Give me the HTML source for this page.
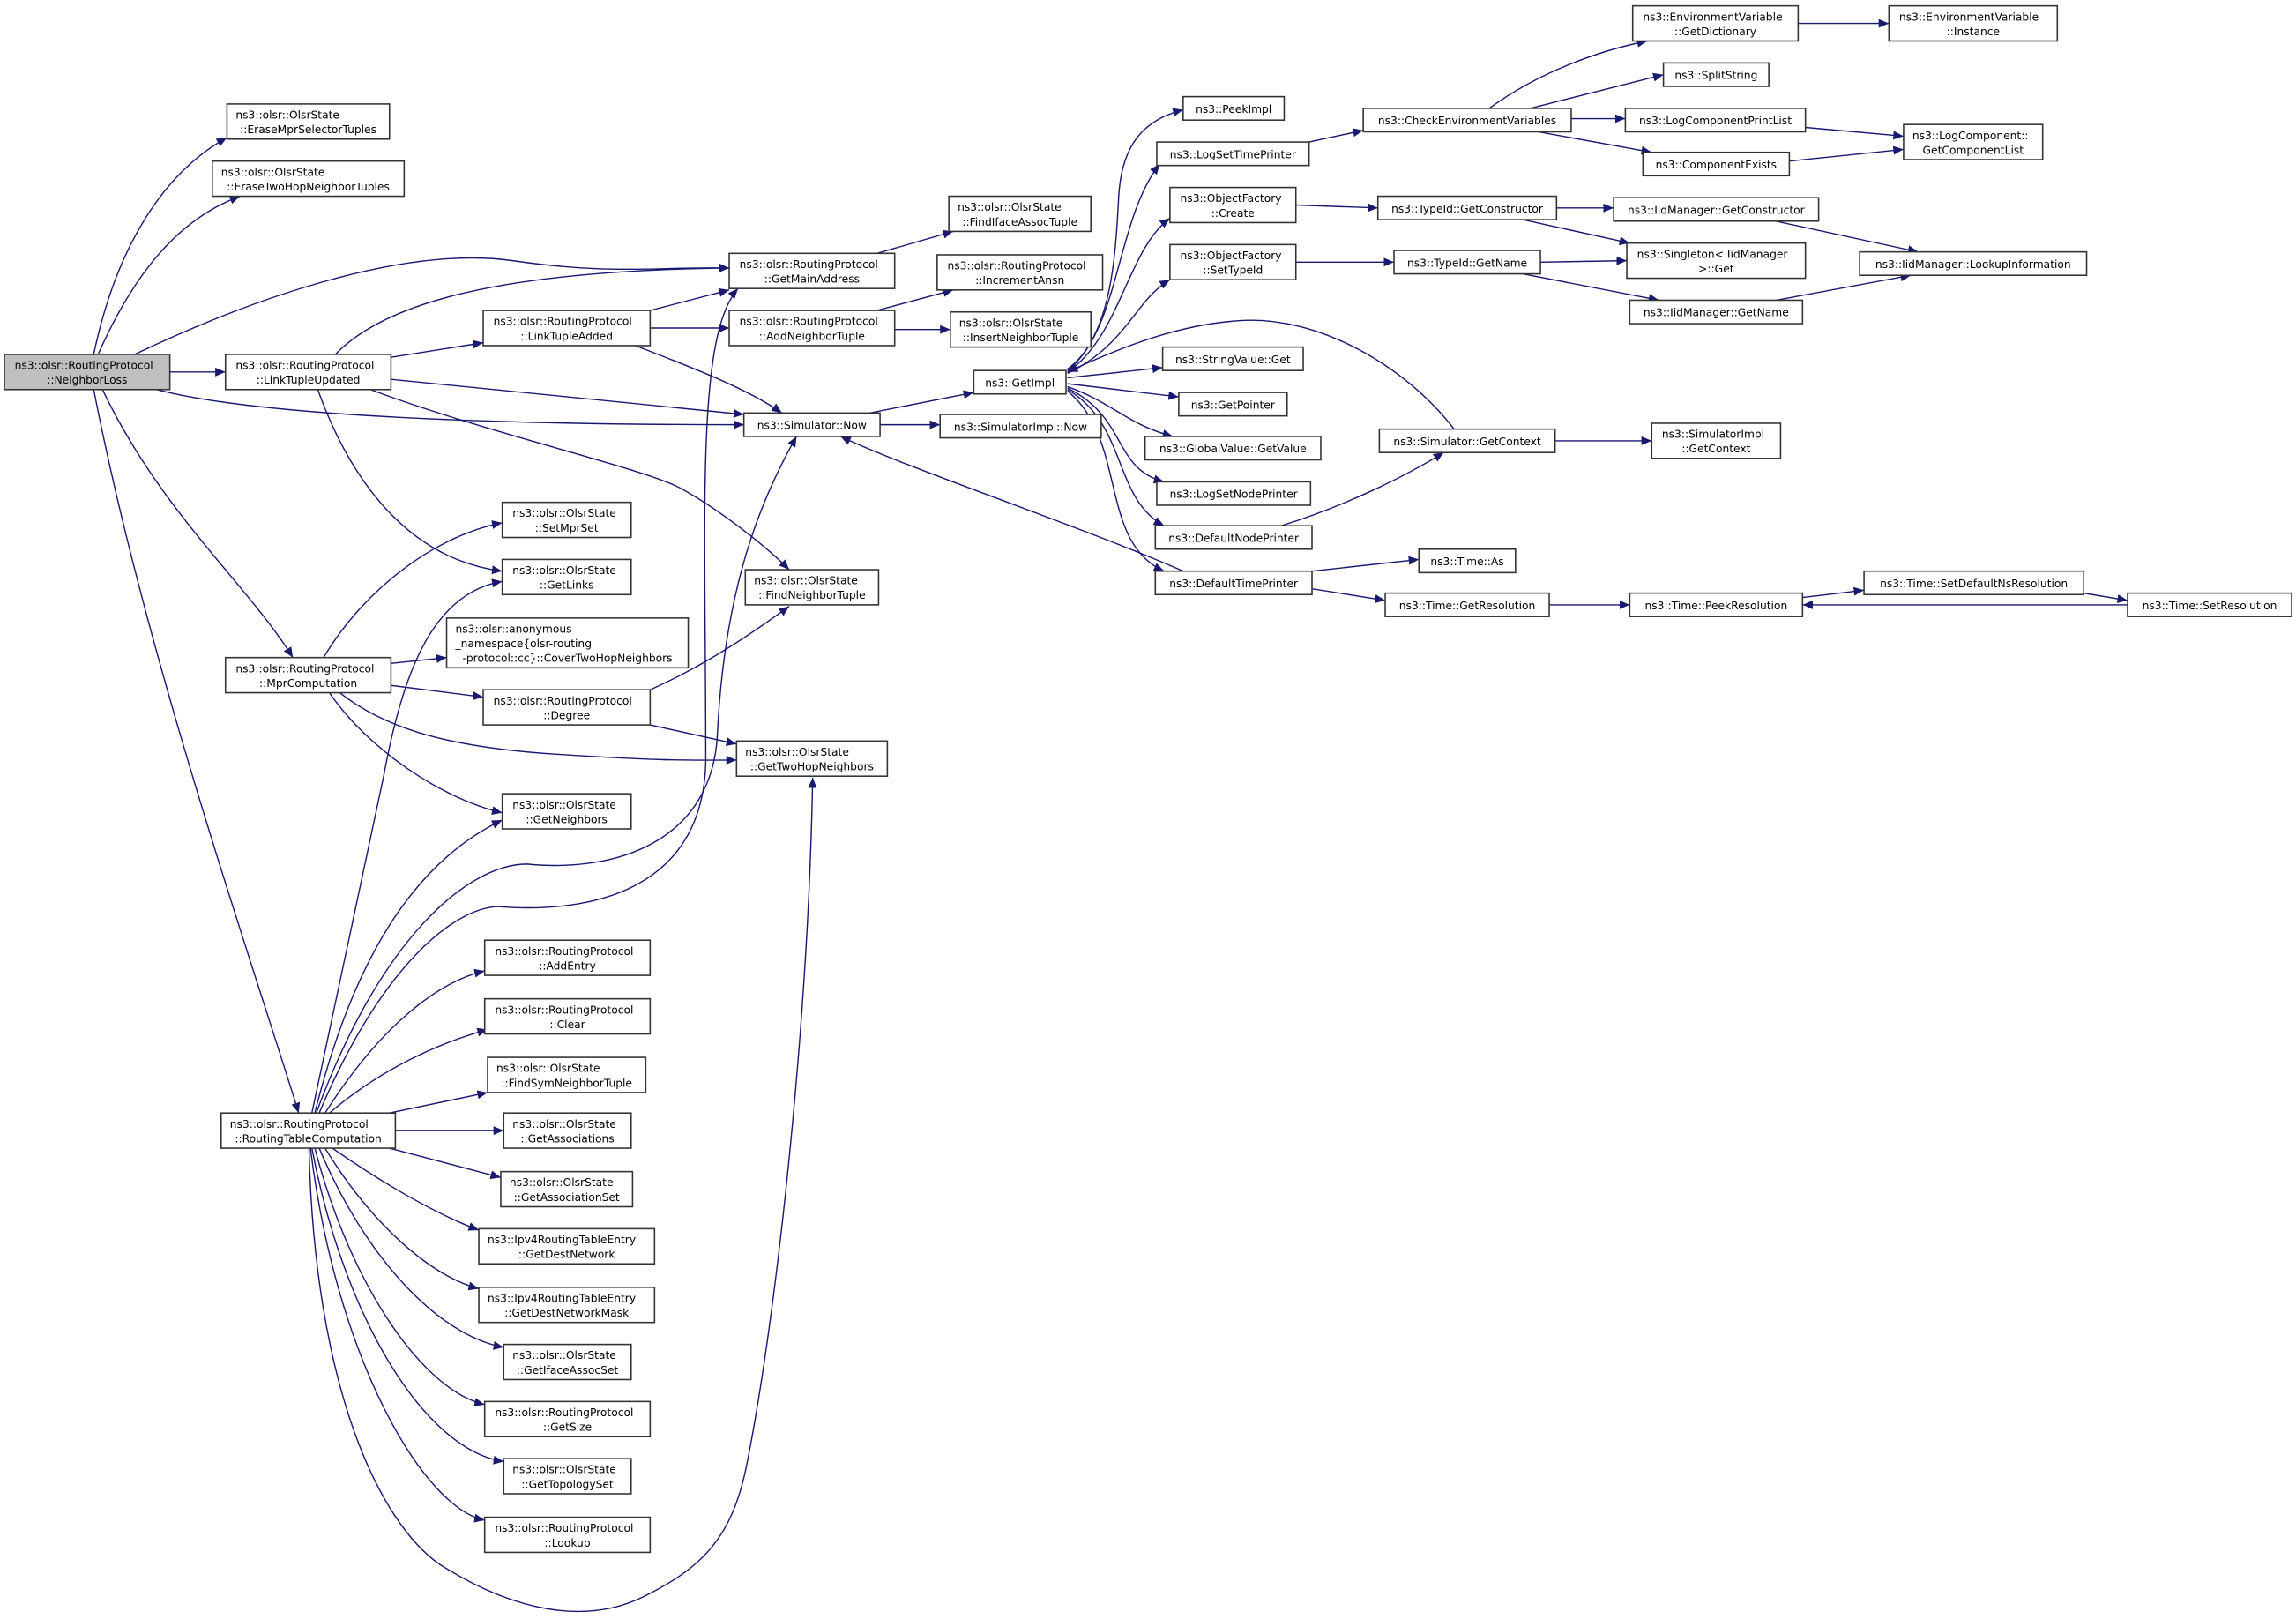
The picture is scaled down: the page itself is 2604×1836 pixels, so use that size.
<!DOCTYPE html>
<html><head><meta charset="utf-8"><style>
html,body{margin:0;padding:0;background:#fff;}
svg{display:block;}
text{font-family:"DejaVu Sans","Liberation Sans",sans-serif;font-size:7.4px;fill:#000;}
.b{fill:#fff;stroke:#333;stroke-width:0.95;}
.g{fill:#bfbfbf;stroke:#333;stroke-width:0.95;}
.e{fill:none;stroke:#191970;stroke-width:0.85;marker-end:url(#a);}
</style></head><body>
<svg width="2604" height="1836" viewBox="0 0 1568 1105.5" preserveAspectRatio="none" xmlns="http://www.w3.org/2000/svg">
<defs><marker id="a" markerUnits="userSpaceOnUse" markerWidth="8" markerHeight="6" refX="7" refY="3" orient="auto"><path d="M0,0 L7,3 L0,6 z" fill="#191970"/></marker></defs>

<!-- edges -->
<path class="e" d="M64,242 C78,175 108,120 155,94"/>
<path class="e" d="M67,242 C90,190 120,150 164,134"/>
<path class="e" d="M92,242 C180,200 280,168 350,178 S450,182 498,183"/>
<path class="e" d="M116,254 L154,254"/>
<path class="e" d="M107,266 C180,285 350,290 508,290"/>
<path class="e" d="M70,266 C110,350 170,400 200,449"/>
<path class="e" d="M64,266 C100,450 170,650 204,760"/>
<path class="e" d="M229,242 C260,210 330,185 498,183"/>
<path class="e" d="M267,244 L330,234"/>
<path class="e" d="M267,259 L508,283"/>
<path class="e" d="M253,266 C330,295 440,320 464,333 S520,370 539,389"/>
<path class="e" d="M217,266 C240,330 280,382 343,390"/>
<path class="e" d="M444,212 L498,198"/>
<path class="e" d="M444,224 L498,224"/>
<path class="e" d="M434,236 C470,250 510,265 534,282"/>
<path class="e" d="M599,173 L651,158"/>
<path class="e" d="M599,212 L651,198"/>
<path class="e" d="M611,225 L649,225"/>
<path class="e" d="M594,282 L665,268"/>
<path class="e" d="M601,290 L642,290"/>
<path class="e" d="M808,390 C740,360 620,320 574,298"/>
<path class="e" d="M221,449 C250,400 300,365 343,357"/>
<path class="e" d="M267,453 L305,449"/>
<path class="e" d="M267,468 L330,476"/>
<path class="e" d="M232,473 C260,495 300,510 380,515 S470,519 503,519"/>
<path class="e" d="M225,473 C250,510 300,545 343,555"/>
<path class="e" d="M444,471 C480,455 510,435 539,414"/>
<path class="e" d="M444,495 L503,508"/>
<path class="e" d="M213,760 C235,660 252,580 262,530 C275,460 295,405 343,397"/>
<path class="e" d="M215,760 C240,660 280,590 343,560"/>
<path class="e" d="M216,760 C260,640 320,590 360,590 C420,596 487,575 490,500 C495,400 520,340 544,298"/>
<path class="e" d="M218,760 C260,660 310,620 340,619 C400,624 480,610 482,520 C482,350 475,230 504,197"/>
<path class="e" d="M222,760 C260,700 300,670 331,663"/>
<path class="e" d="M225,760 C260,730 300,712 333,703"/>
<path class="e" d="M266,760 L333,746"/>
<path class="e" d="M270,772 L344,772"/>
<path class="e" d="M266,784 L342,804"/>
<path class="e" d="M227,784 C250,800 290,826 327,840"/>
<path class="e" d="M222,784 C250,830 290,870 327,880"/>
<path class="e" d="M218,784 C250,860 300,912 344,920"/>
<path class="e" d="M215,784 C240,880 290,950 331,959"/>
<path class="e" d="M213,784 C235,900 290,990 344,998"/>
<path class="e" d="M212,784 C230,930 290,1030 331,1038"/>
<path class="e" d="M211,784 C215,950 260,1040 300,1068 C350,1100 400,1110 440,1090 C480,1070 500,1050 510,1000 C530,900 552,700 555,531"/>
<path class="e" d="M729,252 C760,230 762,170 764,134 C766,100 780,82 808,75"/>
<path class="e" d="M729,253 C765,225 762,150 792,112"/>
<path class="e" d="M729,254 C765,230 770,170 799,149"/>
<path class="e" d="M729,255 C770,235 775,205 799,191"/>
<path class="e" d="M993,293 C960,250 900,215 846,219 C800,222 760,240 729,254"/>
<path class="e" d="M729,258 L794,251"/>
<path class="e" d="M729,262 L805,271"/>
<path class="e" d="M729,264 C760,275 770,290 801,298"/>
<path class="e" d="M729,265 C770,285 760,320 795,329"/>
<path class="e" d="M729,266 C770,290 760,340 795,359"/>
<path class="e" d="M729,267 C770,300 750,370 795,390"/>
<path class="e" d="M894,97 L931,89"/>
<path class="e" d="M885,140 L941,142"/>
<path class="e" d="M885,179 L952,179"/>
<path class="e" d="M875,359 C920,345 960,325 986,309"/>
<path class="e" d="M896,390 L969,382"/>
<path class="e" d="M896,402 L946,410"/>
<path class="e" d="M1062,301 L1128,301"/>
<path class="e" d="M1017,74 C1050,50 1090,35 1125,28"/>
<path class="e" d="M1045,74 L1136,51"/>
<path class="e" d="M1073,81 L1110,81"/>
<path class="e" d="M1045,89 L1128,104"/>
<path class="e" d="M1228,16 L1290,16"/>
<path class="e" d="M1233,87 L1300,93"/>
<path class="e" d="M1222,110 L1300,102"/>
<path class="e" d="M1063,142 L1102,142"/>
<path class="e" d="M1040,150 L1113,166"/>
<path class="e" d="M1052,179 L1111,178"/>
<path class="e" d="M1040,187 L1133,205"/>
<path class="e" d="M1208,150 L1310,172"/>
<path class="e" d="M1213,205 L1305,188"/>
<path class="e" d="M1058,413 L1113,413"/>
<path class="e" d="M1231,408 L1273,403"/>
<path class="e" d="M1423,405 L1453,410"/>
<path class="e" d="M1453,413 L1231,413"/>

<!-- nodes -->
<rect class="g" x="3" y="242" width="113" height="24"/><text x="10" y="252">ns3::olsr::RoutingProtocol</text><text x="59.5" y="262" text-anchor="middle">::NeighborLoss</text>
<rect class="b" x="155" y="71" width="111" height="24"/><text x="161" y="81">ns3::olsr::OlsrState</text><text x="210.5" y="91" text-anchor="middle">::EraseMprSelectorTuples</text>
<rect class="b" x="145" y="110" width="131" height="24"/><text x="151" y="120">ns3::olsr::OlsrState</text><text x="210.5" y="130" text-anchor="middle">::EraseTwoHopNeighborTuples</text>
<rect class="b" x="154" y="242" width="113" height="24"/><text x="161" y="252">ns3::olsr::RoutingProtocol</text><text x="210.5" y="262" text-anchor="middle">::LinkTupleUpdated</text>
<rect class="b" x="154" y="449" width="113" height="24"/><text x="161" y="459">ns3::olsr::RoutingProtocol</text><text x="210.5" y="469" text-anchor="middle">::MprComputation</text>
<rect class="b" x="151" y="760" width="119" height="24"/><text x="157" y="770">ns3::olsr::RoutingProtocol</text><text x="210.5" y="780" text-anchor="middle">::RoutingTableComputation</text>
<rect class="b" x="498" y="173" width="113" height="24"/><text x="505" y="183">ns3::olsr::RoutingProtocol</text><text x="554.5" y="193" text-anchor="middle">::GetMainAddress</text>
<rect class="b" x="330" y="212" width="114" height="24"/><text x="337" y="222">ns3::olsr::RoutingProtocol</text><text x="387" y="232" text-anchor="middle">::LinkTupleAdded</text>
<rect class="b" x="498" y="212" width="113" height="24"/><text x="505" y="222">ns3::olsr::RoutingProtocol</text><text x="554.5" y="232" text-anchor="middle">::AddNeighborTuple</text>
<rect class="b" x="648" y="134" width="97" height="24"/><text x="654" y="144">ns3::olsr::OlsrState</text><text x="696.5" y="154" text-anchor="middle">::FindIfaceAssocTuple</text>
<rect class="b" x="640" y="174" width="113" height="24"/><text x="647" y="184">ns3::olsr::RoutingProtocol</text><text x="696.5" y="194" text-anchor="middle">::IncrementAnsn</text>
<rect class="b" x="649" y="213" width="96" height="24"/><text x="655" y="223">ns3::olsr::OlsrState</text><text x="697" y="233" text-anchor="middle">::InsertNeighborTuple</text>
<rect class="b" x="665" y="253" width="63" height="16"/><text x="696.5" y="264" text-anchor="middle">ns3::GetImpl</text>
<rect class="b" x="508" y="282" width="93" height="16"/><text x="554.5" y="293" text-anchor="middle">ns3::Simulator::Now</text>
<rect class="b" x="642" y="283" width="110" height="16"/><text x="697" y="294" text-anchor="middle">ns3::SimulatorImpl::Now</text>
<rect class="b" x="343" y="343" width="88" height="24"/><text x="350" y="353">ns3::olsr::OlsrState</text><text x="387" y="363" text-anchor="middle">::SetMprSet</text>
<rect class="b" x="343" y="382" width="88" height="24"/><text x="350" y="392">ns3::olsr::OlsrState</text><text x="387" y="402" text-anchor="middle">::GetLinks</text>
<rect class="b" x="305" y="422" width="165" height="34"/><text x="311" y="432">ns3::olsr::anonymous</text><text x="311" y="442">_namespace{olsr-routing</text><text x="387.5" y="452" text-anchor="middle">-protocol::cc}::CoverTwoHopNeighbors</text>
<rect class="b" x="330" y="471" width="114" height="24"/><text x="337" y="481">ns3::olsr::RoutingProtocol</text><text x="387" y="491" text-anchor="middle">::Degree</text>
<rect class="b" x="509" y="389" width="91" height="24"/><text x="515" y="399">ns3::olsr::OlsrState</text><text x="554.5" y="409" text-anchor="middle">::FindNeighborTuple</text>
<rect class="b" x="503" y="506" width="103" height="24"/><text x="509" y="516">ns3::olsr::OlsrState</text><text x="554.5" y="526" text-anchor="middle">::GetTwoHopNeighbors</text>
<rect class="b" x="343" y="542" width="88" height="24"/><text x="350" y="552">ns3::olsr::OlsrState</text><text x="387" y="562" text-anchor="middle">::GetNeighbors</text>
<rect class="b" x="331" y="642" width="113" height="24"/><text x="338" y="652">ns3::olsr::RoutingProtocol</text><text x="387.5" y="662" text-anchor="middle">::AddEntry</text>
<rect class="b" x="331" y="682" width="113" height="24"/><text x="338" y="692">ns3::olsr::RoutingProtocol</text><text x="387.5" y="702" text-anchor="middle">::Clear</text>
<rect class="b" x="333" y="722" width="108" height="24"/><text x="339" y="732">ns3::olsr::OlsrState</text><text x="387" y="742" text-anchor="middle">::FindSymNeighborTuple</text>
<rect class="b" x="344" y="760" width="87" height="24"/><text x="350" y="770">ns3::olsr::OlsrState</text><text x="387.5" y="780" text-anchor="middle">::GetAssociations</text>
<rect class="b" x="342" y="800" width="90" height="24"/><text x="348" y="810">ns3::olsr::OlsrState</text><text x="387" y="820" text-anchor="middle">::GetAssociationSet</text>
<rect class="b" x="327" y="839" width="120" height="24"/><text x="333" y="849">ns3::Ipv4RoutingTableEntry</text><text x="387" y="859" text-anchor="middle">::GetDestNetwork</text>
<rect class="b" x="327" y="879" width="120" height="24"/><text x="333" y="889">ns3::Ipv4RoutingTableEntry</text><text x="387" y="899" text-anchor="middle">::GetDestNetworkMask</text>
<rect class="b" x="344" y="918" width="87" height="24"/><text x="350" y="928">ns3::olsr::OlsrState</text><text x="387.5" y="938" text-anchor="middle">::GetIfaceAssocSet</text>
<rect class="b" x="331" y="957" width="113" height="24"/><text x="338" y="967">ns3::olsr::RoutingProtocol</text><text x="387.5" y="977" text-anchor="middle">::GetSize</text>
<rect class="b" x="344" y="996" width="87" height="24"/><text x="350" y="1006">ns3::olsr::OlsrState</text><text x="387.5" y="1016" text-anchor="middle">::GetTopologySet</text>
<rect class="b" x="331" y="1036" width="113" height="24"/><text x="338" y="1046">ns3::olsr::RoutingProtocol</text><text x="387.5" y="1056" text-anchor="middle">::Lookup</text>
<rect class="b" x="808" y="66" width="69" height="16"/><text x="842.5" y="77" text-anchor="middle">ns3::PeekImpl</text>
<rect class="b" x="790" y="97" width="104" height="16"/><text x="842" y="108" text-anchor="middle">ns3::LogSetTimePrinter</text>
<rect class="b" x="799" y="128" width="86" height="24"/><text x="806" y="138">ns3::ObjectFactory</text><text x="842" y="148" text-anchor="middle">::Create</text>
<rect class="b" x="799" y="167" width="86" height="24"/><text x="806" y="177">ns3::ObjectFactory</text><text x="842" y="187" text-anchor="middle">::SetTypeId</text>
<rect class="b" x="794" y="237" width="96" height="16"/><text x="842" y="248" text-anchor="middle">ns3::StringValue::Get</text>
<rect class="b" x="805" y="268" width="74" height="16"/><text x="842" y="279" text-anchor="middle">ns3::GetPointer</text>
<rect class="b" x="782" y="298" width="120" height="16"/><text x="842" y="309" text-anchor="middle">ns3::GlobalValue::GetValue</text>
<rect class="b" x="790" y="329" width="105" height="16"/><text x="842.5" y="340" text-anchor="middle">ns3::LogSetNodePrinter</text>
<rect class="b" x="789" y="359" width="107" height="16"/><text x="842.5" y="370" text-anchor="middle">ns3::DefaultNodePrinter</text>
<rect class="b" x="789" y="390" width="107" height="16"/><text x="842.5" y="401" text-anchor="middle">ns3::DefaultTimePrinter</text>
<rect class="b" x="931" y="74" width="142" height="16"/><text x="1002" y="85" text-anchor="middle">ns3::CheckEnvironmentVariables</text>
<rect class="b" x="941" y="134" width="122" height="16"/><text x="1002" y="145" text-anchor="middle">ns3::TypeId::GetConstructor</text>
<rect class="b" x="952" y="171" width="100" height="16"/><text x="1002" y="182" text-anchor="middle">ns3::TypeId::GetName</text>
<rect class="b" x="942" y="293" width="120" height="16"/><text x="1002" y="304" text-anchor="middle">ns3::Simulator::GetContext</text>
<rect class="b" x="969" y="375" width="66" height="16"/><text x="1002" y="386" text-anchor="middle">ns3::Time::As</text>
<rect class="b" x="946" y="405" width="112" height="16"/><text x="1002" y="416" text-anchor="middle">ns3::Time::GetResolution</text>
<rect class="b" x="1115" y="4" width="113" height="24"/><text x="1122" y="14">ns3::EnvironmentVariable</text><text x="1171.5" y="24" text-anchor="middle">::GetDictionary</text>
<rect class="b" x="1290" y="4" width="115" height="24"/><text x="1297" y="14">ns3::EnvironmentVariable</text><text x="1347.5" y="24" text-anchor="middle">::Instance</text>
<rect class="b" x="1136" y="43" width="72" height="16"/><text x="1172" y="54" text-anchor="middle">ns3::SplitString</text>
<rect class="b" x="1110" y="74" width="123" height="16"/><text x="1171.5" y="85" text-anchor="middle">ns3::LogComponentPrintList</text>
<rect class="b" x="1122" y="104" width="100" height="16"/><text x="1172" y="115" text-anchor="middle">ns3::ComponentExists</text>
<rect class="b" x="1300" y="85" width="95" height="24"/><text x="1306" y="95">ns3::LogComponent::</text><text x="1347.5" y="105" text-anchor="middle">GetComponentList</text>
<rect class="b" x="1102" y="135" width="140" height="16"/><text x="1172" y="146" text-anchor="middle">ns3::IidManager::GetConstructor</text>
<rect class="b" x="1111" y="166" width="122" height="24"/><text x="1118" y="176">ns3::Singleton&lt; IidManager</text><text x="1172" y="186" text-anchor="middle">&gt;::Get</text>
<rect class="b" x="1113" y="205" width="118" height="16"/><text x="1172" y="216" text-anchor="middle">ns3::IidManager::GetName</text>
<rect class="b" x="1270" y="172" width="155" height="16"/><text x="1347.5" y="183" text-anchor="middle">ns3::IidManager::LookupInformation</text>
<rect class="b" x="1128" y="289" width="88" height="24"/><text x="1135" y="299">ns3::SimulatorImpl</text><text x="1172" y="309" text-anchor="middle">::GetContext</text>
<rect class="b" x="1113" y="405" width="118" height="16"/><text x="1172" y="416" text-anchor="middle">ns3::Time::PeekResolution</text>
<rect class="b" x="1273" y="390" width="150" height="16"/><text x="1348" y="401" text-anchor="middle">ns3::Time::SetDefaultNsResolution</text>
<rect class="b" x="1453" y="405" width="112" height="16"/><text x="1509" y="416" text-anchor="middle">ns3::Time::SetResolution</text>
</svg>
</body></html>
